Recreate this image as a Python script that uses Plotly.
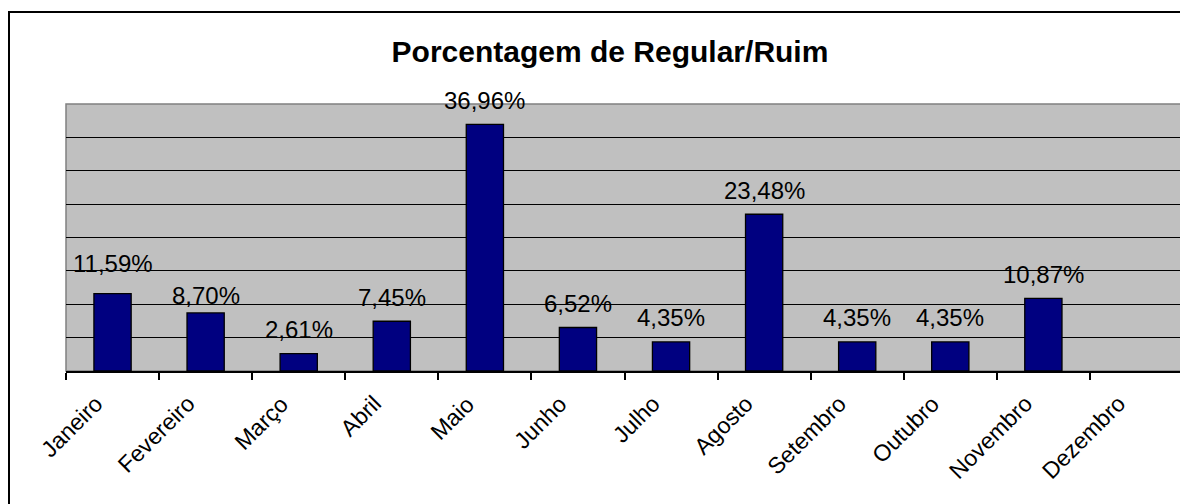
import plotly.graph_objects as go

months = ["Janeiro", "Fevereiro", "Março", "Abril", "Maio", "Junho", "Julho",
          "Agosto", "Setembro", "Outubro", "Novembro", "Dezembro"]
values = [11.59, 8.70, 2.61, 7.45, 36.96, 6.52, 4.35, 23.48, 4.35, 4.35, 10.87, None]
title_text = "Porcentagem de Regular/Ruim"

# the page body adds an 8px margin, so the figure is drawn 8px in
OFF = 8
W, H = 1188 - OFF, 504 - OFF
ML, MT = 66 - OFF, 104 - OFF
MR = W - (1183 - OFF)
MB = H - (371 - OFF)
pw = W - ML - MR
ph = H - MT - MB

FONT = "Liberation Sans, Arial, sans-serif"

# extra vertical pixel offsets of a few data labels (style only)
label_nudge = {"Janeiro": 6, "Fevereiro": -7}

fig = go.Figure()
fig.add_trace(go.Bar(
    x=months, y=values, width=0.4,
    marker=dict(color="#000080", line=dict(color="black", width=1.3)),
    hoverinfo="skip",
))

annotations = []
for m, v in zip(months, values):
    if v is None:
        continue
    annotations.append(dict(
        x=m, y=v, xref="x", yref="y",
        text=f"{v:.2f}%".replace(".", ","),
        showarrow=False, yanchor="middle", yshift=24 + label_nudge.get(m, 0),
        font=dict(family=FONT, size=24, color="black"),
    ))

# rotated category labels
for m in months:
    annotations.append(dict(
        x=m, y=0, xref="x", yref="y", text=m, textangle=-45,
        showarrow=False, xanchor="right", yanchor="top",
        xshift=-3, yshift=-17,
        font=dict(family=FONT, size=23, color="black"),
    ))

def px_x(p):
    return (p - OFF - ML) / pw

def px_y(p):
    return (H - MB - (p - OFF)) / ph

shapes = [
    dict(type="rect", xref="paper", yref="paper",
         x0=px_x(9), x1=px_x(1210), y0=px_y(530), y1=px_y(12),
         line=dict(color="black", width=2), fillcolor="rgba(0,0,0,0)", layer="below"),
    dict(type="rect", xref="paper", yref="paper", x0=0, x1=1, y0=0, y1=1,
         line=dict(color="#808080", width=1.5), fillcolor="rgba(0,0,0,0)", layer="below"),
]

fig.update_layout(
    width=W, height=H,
    margin=dict(l=ML, r=MR, t=MT, b=MB, pad=0),
    paper_bgcolor="white",
    plot_bgcolor="#C0C0C0",
    showlegend=False,
    title=dict(text=f"<b>{title_text}</b>", x=(610 - OFF) / W, xanchor="center",
               xref="container", yref="container", y=1 - (51 - OFF) / H, yanchor="middle",
               font=dict(family=FONT, size=30, color="black")),
    xaxis=dict(
        type="category", categoryorder="array", categoryarray=months,
        range=[-0.5, 11.5],
        tickson="boundaries", ticks="outside", ticklen=7,
        tickcolor="black", tickwidth=1.5, showticklabels=False,
        showline=True, linecolor="black", linewidth=1.5,
        showgrid=False, zeroline=False,
    ),
    yaxis=dict(
        range=[0, 40], dtick=5, tick0=0,
        showticklabels=False, ticks="",
        showgrid=True, gridcolor="black", gridwidth=1.3,
        zeroline=False, showline=False,
    ),
    annotations=annotations,
    shapes=shapes,
)

fig.write_html("out.html")
